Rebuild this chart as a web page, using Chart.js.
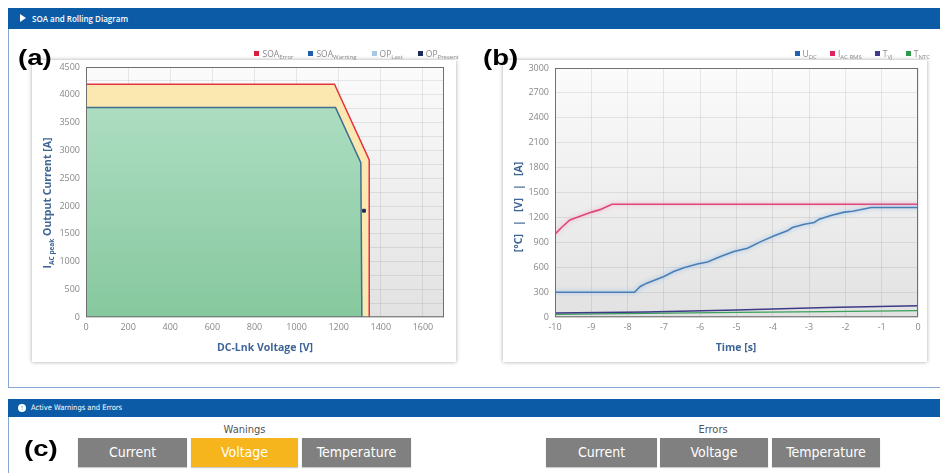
<!DOCTYPE html>
<html>
<head>
<meta charset="utf-8">
<script src="https://cdn.jsdelivr.net/npm/chart.js@4.4.0/dist/chart.umd.min.js"></script>
<style>
  body { margin:0; width:940px; height:473px; overflow:hidden; background:#fff; font-family:"Open Sans", sans-serif; position:relative; }
  .bar { position:absolute; left:8px; width:932px; background:#0c5ba6; color:#fff; }
  .bar span { position:absolute; white-space:nowrap; }
  .panel { position:absolute; left:8px; width:940px; border-left:1.5px solid #86a8d2; }
  .card { position:absolute; background:#fff; box-shadow:0 0 4px rgba(0,0,0,0.35); }
  .cv { position:absolute; }
  .tag { position:absolute; font-family:"Liberation Sans", Arial, sans-serif; font-weight:bold; font-size:22px; line-height:22px; color:#000; transform-origin:left top; transform:scaleX(1.25); }
  .legend { position:absolute; display:flex; font-size:8.5px; color:#8a8a8a; white-space:nowrap; }
  .legend i { display:inline-block; width:5px; height:5px; margin-right:3px; vertical-align:1px; }
  .legend sub { font-size:6px; vertical-align:-2px; }
  .axt { position:absolute; font-weight:bold; font-size:10.5px; color:#3f6596; white-space:nowrap; transform:translate(-50%,-50%); }
  .axt.rot { transform:translate(-50%,-50%) rotate(-90deg); }
  .axt sub { font-size:6.5px; }
  .grp { position:absolute; font-family:"DejaVu Sans Condensed", "DejaVu Sans", sans-serif; }
  .grp .hd { position:absolute; top:0; width:100%; text-align:center; font-size:11px; color:#555; }
  .btn { position:absolute; top:15px; height:29px; line-height:29px; text-align:center; color:#fff; font-size:14px; background:#808080; box-shadow:0 1px 1px rgba(0,0,0,0.2); }
  .btn.on { background:#f6b51c; }
</style>
</head>
<body>
<div class="bar" style="top:8px;height:21px;">
  <span style="left:12px;top:6px;width:0;height:0;border-top:4px solid transparent;border-bottom:4px solid transparent;border-left:6px solid #fff;"></span>
  <span style="left:24px;top:5px;font-size:8px;font-weight:600;">SOA and Rolling Diagram</span>
</div>
<div class="panel" style="top:29px;height:358px;border-bottom:1.5px solid #86a8d2;"></div>
<div class="bar" style="top:399px;height:18px;">
  <span style="left:10px;top:5px;width:8px;height:8px;border-radius:50%;background:#fff;color:#0c5ba6;font-size:7px;line-height:8px;text-align:center;font-weight:bold;">&#8593;</span>
  <span style="left:23px;top:4px;font-size:7.5px;font-family:'DejaVu Sans Condensed',sans-serif;">Active Warnings and Errors</span>
</div>
<div class="panel" style="top:417px;height:60px;"></div>

<div class="card" style="left:32px;top:60px;width:424px;height:302px;"></div>
<div class="card" style="left:503px;top:60px;width:424px;height:302px;"></div>

<div class="cv" style="left:32px;top:40px;"><canvas id="soa" width="424" height="322"></canvas></div>
<div class="cv" style="left:503px;top:40px;"><canvas id="roll" width="424" height="322"></canvas></div>

<div class="legend" id="legA" style="right:481px;top:48px;gap:15px;"></div>
<div class="legend" id="legB" style="right:10px;top:48px;gap:13px;"></div>

<div class="axt rot" style="left:48px;top:203px;">I<sub>AC peak</sub> Output Current [A]</div>
<div class="axt" style="left:265px;top:347px;">DC-Lnk Voltage [V]</div>
<div class="axt rot" style="left:518px;top:207px;">[°C] &nbsp;&nbsp;|&nbsp;&nbsp; [V] &nbsp;&nbsp;|&nbsp;&nbsp; [A]</div>
<div class="axt" style="left:736px;top:347px;">Time [s]</div>

<div class="tag" style="left:18px;top:47px;">(a)</div>
<div class="tag" style="left:483px;top:47px;">(b)</div>
<div class="tag" style="left:24px;top:438px;">(c)</div>

<div class="grp" style="left:78px;top:423px;width:333px;height:50px;">
  <div class="hd">Wanings</div>
  <div class="btn" style="left:0;width:109px;">Current</div>
  <div class="btn on" style="left:113px;width:107px;">Voltage</div>
  <div class="btn" style="left:224px;width:109px;">Temperature</div>
</div>
<div class="grp" style="left:546px;top:423px;width:334px;height:50px;">
  <div class="hd">Errors</div>
  <div class="btn" style="left:0;width:111px;">Current</div>
  <div class="btn" style="left:114px;width:108px;">Voltage</div>
  <div class="btn" style="left:226px;width:108px;">Temperature</div>
</div>

<script>
// SOA diagram (a)
const soaErrV = [0, 1180, 1345, 1345];
const soaErrI = [4190, 4190, 2830, 0];
const soaWarnV = [0, 1185, 1305, 1310];
const soaWarnI = [3770, 3770, 2780, 0];
const opLastV = [];
const opLastI = [];
const opPresentV = [1320];
const opPresentI = [1915];

// rolling diagram (b)
const tUdc = [-10, -7.81, -7.65, -7.47, -7.0, -6.73, -6.45, -6.08, -5.8, -5.44, -5.07, -4.7, -4.33, -3.96, -3.6, -3.46, -3.13, -2.86, -2.72, -2.4, -2.03, -1.8, -1.29, 0];
const udc = [300, 300, 370, 410, 490, 550, 595, 640, 665, 730, 790, 830, 910, 980, 1040, 1080, 1120, 1140, 1180, 1225, 1265, 1275, 1320, 1320];
const tIac = [-10, -9.82, -9.59, -9.31, -8.99, -8.76, -8.43, 0];
const iacRms = [1000, 1080, 1170, 1215, 1265, 1295, 1360, 1360];
const tTemp = [-10, -7.5, -5, -2.5, 0];
const tvj = [50, 62, 88, 118, 137];
const tntc = [35, 45, 57, 68, 78];

const legendA = [['SOA', 'Error', '#d81e3c'], ['SOA', 'Warning', '#1f5fa8'], ['OP', 'Last', '#a9c6e6'], ['OP', 'Present', '#1c2b57']];
const legendB = [['U', 'DC', '#1f5fb0'], ['I', 'AC RMS', '#e0245e'], ['T', 'VJ', '#3e3a8c'], ['T', 'NTC', '#2c9a4a']];

function fillLegend(id, items) {
  document.getElementById(id).innerHTML = items.map(([a, b, c]) =>
    `<span><i style="background:${c}"></i>${a}<sub>${b}</sub></span>`).join('');
}
fillLegend('legA', legendA);
fillLegend('legB', legendB);

const pts = (xs, ys) => xs.map((x, i) => ({ x, y: ys[i] }));

const tickFont = { family: 'Open Sans', size: 9 };
const tickColor = '#888';
const gridColor = 'rgba(0,0,0,0.08)';

const plotBox = {
  id: 'plotBox',
  beforeDraw(chart) {
    const { ctx, chartArea: a } = chart;
    const g = ctx.createLinearGradient(0, a.top, 0, a.bottom);
    g.addColorStop(0, '#fbfbfb');
    g.addColorStop(1, '#e2e2e2');
    ctx.save();
    ctx.fillStyle = g;
    ctx.fillRect(a.left, a.top, a.right - a.left, a.bottom - a.top);
    ctx.restore();
  },
  afterDraw(chart) {
    const { ctx, chartArea: a } = chart;
    ctx.save();
    ctx.strokeStyle = '#707070';
    ctx.lineWidth = 1;
    ctx.strokeRect(a.left + 0.5, a.top + 0.5, a.right - a.left - 1, a.bottom - a.top - 1);
    ctx.restore();
  }
};

const glow = {
  id: 'glow',
  beforeDatasetDraw(chart, args) {
    const ds = chart.data.datasets[args.index];
    if (!ds.glow) return;
    chart.ctx.save();
    chart.ctx.shadowColor = ds.glow;
    chart.ctx.shadowBlur = 4;
  },
  afterDatasetDraw(chart, args) {
    if (chart.data.datasets[args.index].glow) chart.ctx.restore();
  }
};

function greenFill(c) {
  const a = c.chart.chartArea;
  if (!a) return '#a6d9bb';
  const g = c.chart.ctx.createLinearGradient(0, a.top, 0, a.bottom);
  g.addColorStop(0, '#b4e1c8');
  g.addColorStop(1, '#86c89e');
  return g;
}

function axes(xmin, xmax, xstep, ymax, ystep, yw, ylab) {
  return {
    x: {
      type: 'linear', min: xmin, max: xmax, z: 1,
      ticks: { stepSize: xstep, includeBounds: false, font: tickFont, color: tickColor, padding: 5, callback: v => String(v) },
      grid: { color: gridColor, drawTicks: false },
      border: { display: false }
    },
    y: {
      min: 0, max: ymax, z: 1,
      ticks: { stepSize: ystep, font: tickFont, color: tickColor, padding: 6, callback: ylab },
      grid: { color: gridColor, drawTicks: false },
      border: { display: false },
      afterFit: s => { s.width = yw; }
    }
  };
}

new Chart(document.getElementById('soa'), {
  type: 'line',
  data: {
    datasets: [
      { label: 'OP Present', data: pts(opPresentV, opPresentI), showLine: false, pointStyle: 'rect', pointRadius: 2, pointBackgroundColor: '#1c2b57', pointBorderColor: '#1c2b57', order: 0 },
      { label: 'OP Last', data: pts(opLastV, opLastI), showLine: false, pointStyle: 'rect', pointRadius: 2, pointBackgroundColor: '#a9c6e6', order: 0 },
      { label: 'SOA Warning', data: pts(soaWarnV, soaWarnI), borderColor: '#40708f', borderWidth: 1.5, fill: 'origin', backgroundColor: greenFill, pointRadius: 0, order: 1 },
      { label: 'SOA Error', data: pts(soaErrV, soaErrI), borderColor: '#e3343f', borderWidth: 1.5, fill: 'origin', backgroundColor: '#fbe7b0', pointRadius: 0, order: 2 }
    ]
  },
  options: {
    animation: false, responsive: false,
    layout: { padding: { top: 27, right: 12, left: 0, bottom: 24 } },
    plugins: { legend: { display: false }, tooltip: { enabled: false } },
    scales: axes(0, 1700, 200, 4500, 250, 54, v => (v % 500 === 0 ? String(v) : ''))
  },
  plugins: [plotBox]
});

new Chart(document.getElementById('roll'), {
  type: 'line',
  data: {
    datasets: [
      { label: 'UDC', data: pts(tUdc, udc), borderColor: '#4a7fb5', borderWidth: 1.6, glow: 'rgba(130,180,235,0.9)', pointRadius: 0, fill: false },
      { label: 'IAC RMS', data: pts(tIac, iacRms), borderColor: '#e0457b', borderWidth: 1.6, glow: 'rgba(240,150,180,0.8)', pointRadius: 0, fill: false },
      { label: 'TVJ', data: pts(tTemp, tvj), borderColor: '#3d3b86', borderWidth: 1.5, pointRadius: 0, fill: false },
      { label: 'TNTC', data: pts(tTemp, tntc), borderColor: '#3aa05a', borderWidth: 1.2, pointRadius: 0, fill: false }
    ]
  },
  options: {
    animation: false, responsive: false,
    layout: { padding: { top: 28, right: 9, left: 0, bottom: 24 } },
    plugins: { legend: { display: false }, tooltip: { enabled: false } },
    scales: axes(-10, 0, 1, 3000, 300, 52, v => String(v))
  },
  plugins: [plotBox, glow]
});
</script>
</body>
</html>
